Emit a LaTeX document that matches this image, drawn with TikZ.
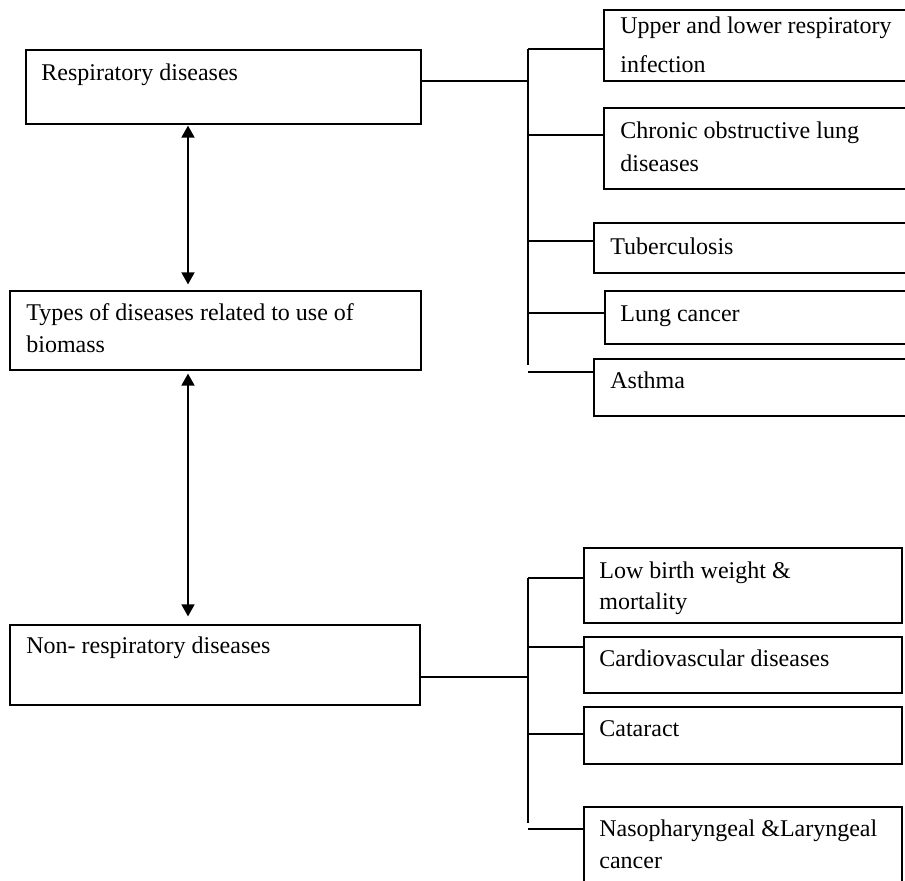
\documentclass[tikz,border=0pt]{standalone}
\usepackage{fontspec}
\setmainfont{Liberation Serif}
\usetikzlibrary{arrows.meta,fit}

\tikzset{
  box/.style={draw,line width=.6pt,inner sep=0pt},
  boxtext/.style={anchor=base west,inner sep=0pt,align=left,font=\fontsize{12}{16}\selectfont},
  branch/.style={line width=.6pt},
  biarrow/.style={line width=.8pt,{Triangle[length=6pt,width=6.5pt]}-{Triangle[length=6pt,width=6.5pt]}}
}

\begin{document}
\begin{tikzpicture}[x=.5pt,y=-.5pt]
\path[use as bounding box] (0,0) rectangle (905,880);
\begin{scope}
\clip (0,0) rectangle (905,880);
% left column (multi-line texts sit on their last line)
\node[box,fit={(26,50) (421,124)}] (resp) {};
\node[box,fit={(10,291) (421,370)}] (types) {};
\node[box,fit={(10,625) (420,705)}] (nonresp) {};
\node[boxtext] (respT) at (41,80) {Respiratory diseases};
\node[boxtext] (typesT) at (26,352) {Types of diseases related to use of\\biomass};
\node[boxtext] (nonrespT) at (26,653) {Non- respiratory diseases};

\coordinate (ax) at (188,0);
\draw[biarrow,shorten <=.5pt,shorten >=3pt] (resp.south -| ax) -- (types.north -| ax);
\draw[biarrow,shorten <=1.5pt,shorten >=4pt] (types.south -| ax) -- (nonresp.north -| ax);

% respiratory group
\node[box,fit={(604,10) (915,81)}] (upper) {};
\node[box,fit={(604,108) (915,189)}] (chronic) {};
\node[box,fit={(594,223) (915,273)}] (tuberc) {};
\node[box,fit={(605,291) (915,344)}] (lung) {};
\node[box,fit={(594,359) (915,416)}] (asthma) {};
\node[boxtext,font=\fontsize{12}{19.5}\selectfont] (upperT) at (620,72) {Upper and lower respiratory\\infection};
\node[boxtext,font=\fontsize{12}{16.5}\selectfont] (chronicT) at (620,171) {Chronic obstructive lung\\diseases};
\node[boxtext] (tubercT) at (610,254) {Tuberculosis};
\node[boxtext] (lungT) at (620,321) {Lung cancer};
\node[boxtext] (asthmaT) at (610,388) {Asthma};

\coordinate (rtop) at (528,49);
\coordinate (rbot) at (528,365);
\coordinate (rjoin) at (528,81);
\draw[branch] (rtop) -- (rbot);
\draw[branch] (resp.east |- rjoin) -- (rjoin);
\foreach \n/\y in {upper/49,chronic/135,tuberc/241,lung/313,asthma/372}
  \draw[branch] (rtop |- 0,\y) -- (\n.west |- 0,\y);

% non-respiratory group
\node[box,fit={(584,548) (902,623)}] (lowbirth) {};
\node[box,fit={(584,637) (902,693)}] (cardio) {};
\node[box,fit={(584,707) (902,764)}] (cataract) {};
\node[box,fit={(584,807) (902,900)}] (naso) {};
\node[boxtext,font=\fontsize{12}{15.5}\selectfont] (lowbirthT) at (599,609) {Low birth weight \&\\mortality};
\node[boxtext] (cardioT) at (599,666) {Cardiovascular diseases};
\node[boxtext] (cataractT) at (599,736) {Cataract};
\node[boxtext] (nasoT) at (599,868) {Nasopharyngeal \&Laryngeal\\cancer};

\coordinate (ntop) at (528,578);
\coordinate (nbot) at (528,823);
\coordinate (njoin) at (528,677);
\draw[branch] (ntop) -- (nbot);
\draw[branch] (nonresp.east |- njoin) -- (njoin);
\foreach \n/\y in {lowbirth/578,cardio/647,cataract/734,naso/829}
  \draw[branch] (ntop |- 0,\y) -- (\n.west |- 0,\y);
\end{scope}
\end{tikzpicture}
\end{document}
